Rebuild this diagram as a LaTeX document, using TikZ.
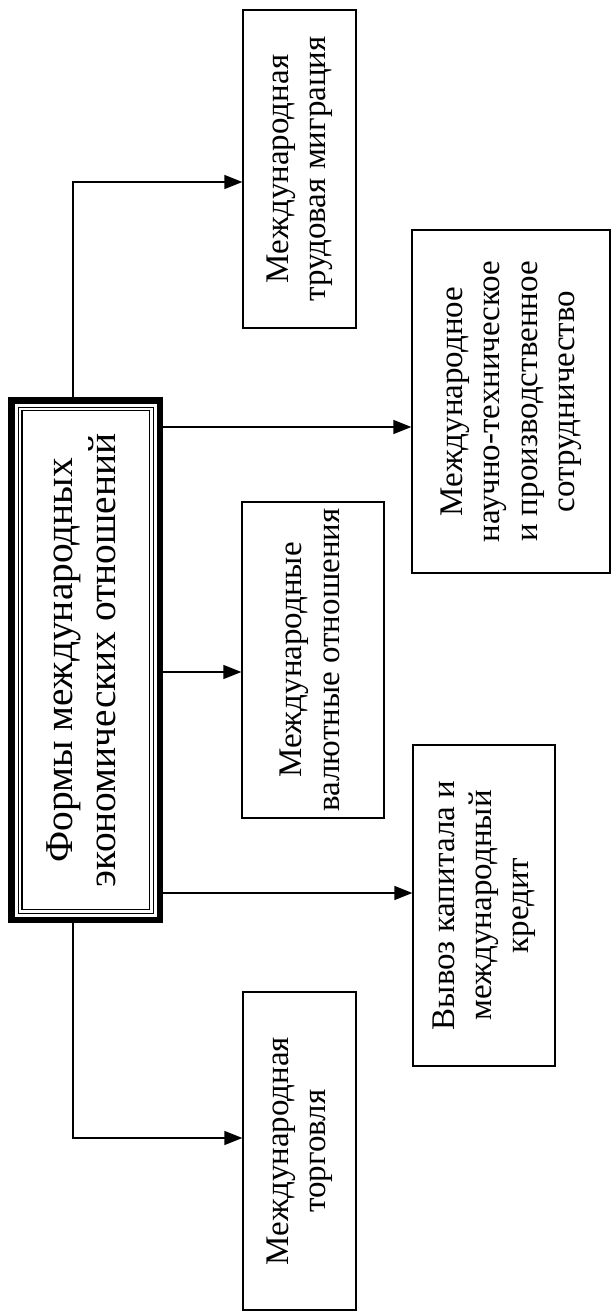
\documentclass[tikz,border=0pt]{standalone}
\usepackage{fontspec}
\setmainfont{Liberation Serif}
\usepackage{graphicx}
\usepackage{tikz}
\usetikzlibrary{arrows.meta,calc}

\newcommand{\vtext}[1]{\rotatebox{90}{\begin{tabular}{@{}c@{}}#1\end{tabular}}}

\begin{document}
\begin{tikzpicture}[x=0.5pt,y=-0.5pt]
\tikzstyle{form}=[draw,line width=0.65pt,inner sep=0pt,font=\fontsize{16.5}{18.6}\selectfont]
\tikzstyle{arr}=[line width=0.65pt,-{Triangle[length=9pt,width=7pt]}]
\useasboundingbox (0,0) rectangle (611,1312);
% main block
\node[draw,line width=3.35pt,minimum width=74.15pt,minimum height=259.75pt,inner sep=0pt,
      font=\fontsize{19.7}{21.5}\selectfont] (forms) at (85.85,660.25)
      {\vtext{Формы международных\\экономических отношений}};
\draw[double,line width=0.6pt,double distance=1.15pt]
      ([shift={(5.9pt,-5.9pt)}]forms.north west) rectangle ([shift={(-5.9pt,5.9pt)}]forms.south east);
% forms
\foreach \name/\point/\w/\h/\txt in {
	trud/{299.5,169}/56.5pt/159pt/{Международная\\трудовая миграция},
	nauch/{511,401.5}/99pt/171.5pt/{Международное\\научно-техническое\\и производственное\\сотрудничество},
	valut/{313,660}/71pt/158pt/{Международные\\валютные отношения},
	kredit/{484,905.5}/71pt/160.5pt/{Вывоз капитала и\\международный\\кредит},
	torg/{299.5,1151}/56.5pt/159pt/{Международная\\торговля}}
	\node[form,minimum width=\w,minimum height=\h] (\name) at (\point) {\vtext{\txt}};
% connectors
\coordinate (up) at (73,182);
\coordinate (down) at (73,1138);
\draw[arr] (up |- forms.north) -- (up) -- (up -| trud.west);
\draw[arr] (down |- forms.south) -- (down) -- (down -| torg.west);
\foreach \name/\y in {nauch/427, valut/672, kredit/893}
	\draw[arr] (forms.east |- 0,\y) -- (\name.west |- 0,\y);
\end{tikzpicture}
\end{document}
